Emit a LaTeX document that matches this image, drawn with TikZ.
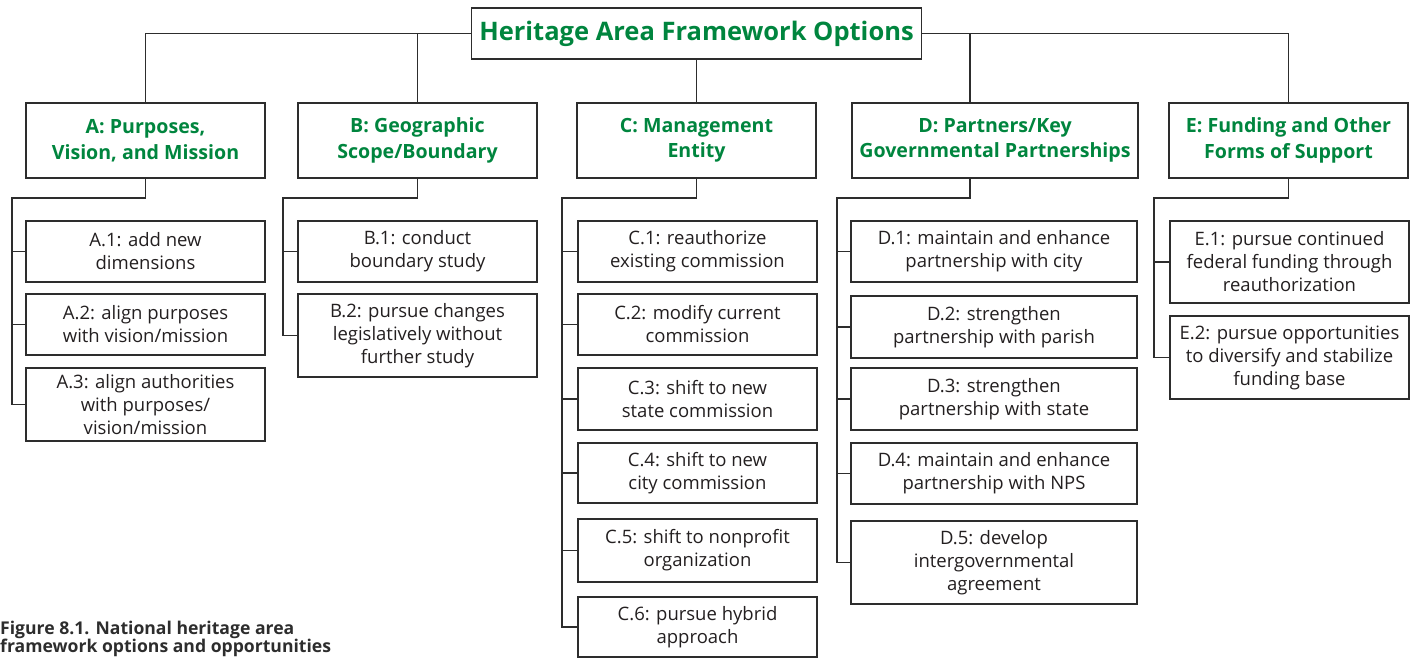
\documentclass[tikz,border=0pt]{standalone}
\usepackage{fontspec}
\setmainfont{Open Sans}

\definecolor{hagreen}{RGB}{0,133,62}
\definecolor{hagray}{RGB}{45,45,45}
\definecolor{hatext}{RGB}{35,31,32}

\tikzset{
  head/.style = {draw = hagray, line width = 1.4pt, text = hagreen, inner sep = 0pt,
                 font = \fontsize{25.5}{30}\selectfont\bfseries, minimum width = 450pt, minimum height = 51pt},
  cat/.style  = {draw = hagray, line width = 1.4pt, text = hagreen, inner sep = 0pt, align = center,
                 font = \fontsize{19.6}{25.5}\selectfont\bfseries, minimum width = 239pt, minimum height = 75pt},
  opt/.style  = {draw = hagray, line width = 1.4pt, text = hatext, inner sep = 0pt, align = center,
                 font = \fontsize{18.5}{23}\selectfont, minimum width = 239pt},
  link/.style = {draw = hagray, line width = 1.4pt},
}

\begin{document}
\begin{tikzpicture}[x = 1pt, y = -1pt]

    \useasboundingbox (0,0) rectangle (1416,658);

    % top and the five option groups
    \node [head] (title) at (696.5,33.5) {Heritage Area Framework Options};
    \node [cat] (A) at (145.5,140.5) {A: Purposes,\\Vision, and Mission};
    \node [cat] (B) at (417.5,140.5) {B: Geographic\\Scope/Boundary};
    \node [cat] (C) at (696.5,140.5) {C: Management\\Entity};
    \node [cat, minimum width = 286pt] (D) at (995,140.5) {D: Partners/Key\\Governmental Partnerships};
    \node [cat] (E) at (1288.5,140.5) {E: Funding and Other\\Forms of Support};

    \draw [link] (title.west) -| (A.north);
    \draw [link] (title.west) -| (B.north);
    \draw [link] (title.south) -- (C.north);
    \draw [link] (title.east) -| ([xshift = -25pt]D.north);
    \draw [link] (title.east) -| (E.north);

    % A
    \node [opt, minimum height = 61pt] (A1) at (145.5,251.5) {A.1: add new\\dimensions};
    \node [opt, minimum height = 61pt] (A2) at (145.5,324.5) {A.2: align purposes\\with vision/mission};
    \node [opt, minimum height = 73pt] (A3) at (145.5,404.5) {A.3: align authorities\\with purposes/\\vision/mission};

    % B
    \node [opt, minimum height = 61pt] (B1) at (417.5,251.5) {B.1: conduct\\boundary study};
    \node [opt, minimum height = 83pt] (B2) at (417.5,335.5) {B.2: pursue changes\\legislatively without\\further study};

    % C
    \node [opt, minimum height = 61pt] (C1) at (697.5,251.5) {C.1: reauthorize\\existing commission};
    \node [opt, minimum height = 61pt] (C2) at (697.5,324.5) {C.2: modify current\\commission};
    \node [opt, minimum height = 62pt] (C3) at (697.5,399) {C.3: shift to new\\state commission};
    \node [opt, minimum height = 60pt] (C4) at (697.5,473) {C.4: shift to new\\city commission};
    \node [opt, minimum height = 63pt] (C5) at (697.5,550.5) {C.5: shift to nonprofit\\organization};
    \node [opt, minimum height = 60pt] (C6) at (697.5,627) {C.6: pursue hybrid\\approach};

    % D
    \node [opt, minimum width = 286pt, minimum height = 61pt] (D1) at (994,251.5) {D.1: maintain and enhance\\partnership with city};
    \node [opt, minimum width = 286pt, minimum height = 62pt] (D2) at (994,327) {D.2: strengthen\\partnership with parish};
    \node [opt, minimum width = 286pt, minimum height = 62pt] (D3) at (994,399) {D.3: strengthen\\partnership with state};
    \node [opt, minimum width = 286pt, minimum height = 61pt] (D4) at (994,473.5) {D.4: maintain and enhance\\partnership with NPS};
    \node [opt, minimum width = 286pt, minimum height = 83pt] (D5) at (994,562.5) {D.5: develop\\intergovernmental\\agreement};

    % E
    \node [opt, minimum height = 82pt] (E1) at (1289.5,262) {E.1: pursue continued\\federal funding through\\reauthorization};
    \node [opt, minimum height = 83pt] (E2) at (1289.5,357.5) {E.2: pursue opportunities\\to diversify and stabilize\\funding base};

    % spines down the left of each group
    \coordinate (aspine) at (12,198);
    \coordinate (bspine) at (283,198);
    \coordinate (cspine) at (562,198);
    \coordinate (dspine) at (837,198);
    \coordinate (espine) at (1154,198);

    \draw [link] (A.south) |- (aspine) |- (A3.west);
    \foreach \n in {A1,A2} {
      \draw [link] (\n.west) -- (\n.west -| aspine);
    }
    \draw [link] (B.south) |- (bspine) |- (B2.west);
    \draw [link] (B1.west) -- (B1.west -| bspine);
    \draw [link] (C.south) |- (cspine) |- (C6.west);
    \foreach \n in {C1,C2,C3,C4,C5} {
      \draw [link] (\n.west) -- (\n.west -| cspine);
    }
    \draw [link] ([xshift = -25pt]D.south) |- (dspine) |- (D5.west);
    \foreach \n in {D1,D2,D3,D4} {
      \draw [link] (\n.west) -- (\n.west -| dspine);
    }
    \draw [link] (E.south) |- (espine) |- (E2.west);
    \draw [link] (E1.west) -- (E1.west -| espine);

    \node [anchor = south west, align = left, inner sep = 0pt, text = hagray,
           font = \fontsize{17.6}{18.5}\selectfont\bfseries] (caption) at (0,657)
          {Figure 8.1. National heritage area\\framework options and opportunities};
    \end{tikzpicture}
\end{document}
